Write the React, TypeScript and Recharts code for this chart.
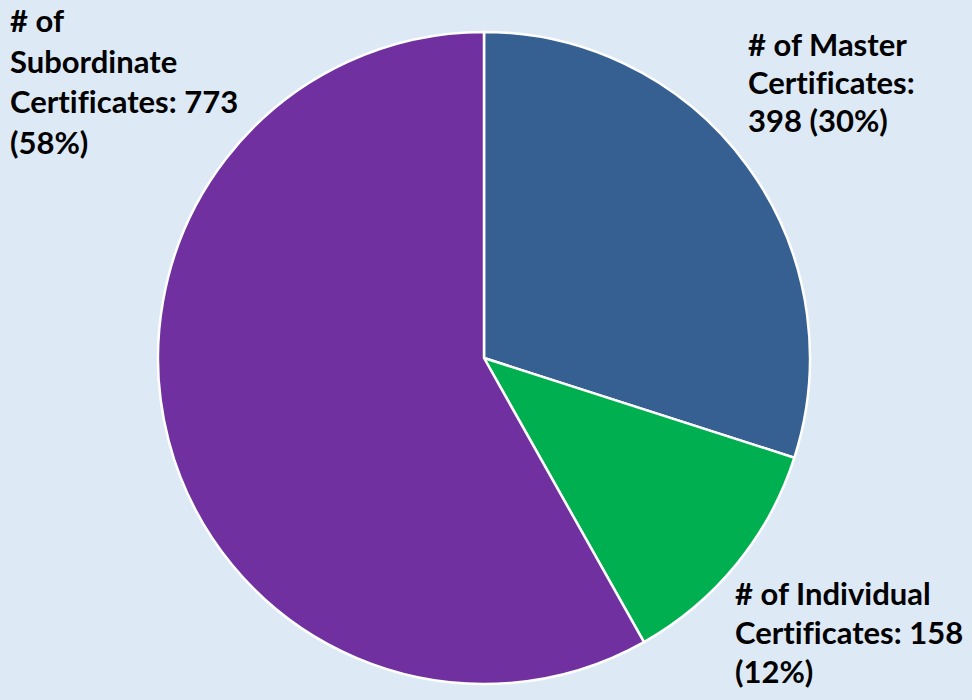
import { PieChart, Pie, Cell } from 'recharts';

const categories = ['# of Master', '# of Individual', '# of Subordinate'];
const counts = [398, 158, 773];
const colors = ['#366092', '#00b050', '#7030a0'];

// words per line for each label, and where the label block sits
const LABEL_LAYOUT = [
  { lines: [3, 1, 2], x: 748, y: 56, gap: 38 },
  { lines: [3, 2, 1], x: 735, y: 605, gap: 39 },
  { lines: [2, 1, 2, 1], x: 10, y: 32, gap: 40.5 },
];

const total = counts.reduce((a, b) => a + b, 0);
const data = categories.map((name, i) => ({ name, value: counts[i] }));

function renderLabel(props: any) {
  const { index, name, value } = props;
  const layout = LABEL_LAYOUT[index];
  const pct = Math.round((value / total) * 100);
  const words = `${name} Certificates: ${value} (${pct}%)`.split(' ');
  const rows: string[] = [];
  let k = 0;
  layout.lines.forEach((n) => {
    rows.push(words.slice(k, k + n).join(' '));
    k += n;
  });
  return (
    <text
      x={layout.x}
      y={layout.y}
      fill="#000"
      fontFamily="Lato, 'Open Sans', sans-serif"
      fontWeight={700}
      fontSize={31}
      textAnchor="start"
      style={{ fontVariantLigatures: 'none' }}
    >
      {rows.map((r, i) => (
        <tspan key={i} x={layout.x} y={layout.y + i * layout.gap}>
          {r}
        </tspan>
      ))}
    </text>
  );
}

export default function App() {
  return (
    <div style={{ position: 'absolute', left: 0, top: 0, width: 972, height: 700, background: '#dde9f5', overflow: 'hidden' }}>
      <PieChart width={972} height={700} margin={{ top: 0, right: 0, bottom: 0, left: 0 }}>
        <Pie
          data={data}
          dataKey="value"
          nameKey="name"
          cx={484}
          cy={358}
          outerRadius={326}
          startAngle={90}
          endAngle={-270}
          stroke="#ffffff"
          strokeWidth={2.5}
          label={renderLabel}
          labelLine={false}
          isAnimationActive={false}
        >
          {data.map((d, i) => (
            <Cell key={d.name} fill={colors[i]} />
          ))}
        </Pie>
      </PieChart>
    </div>
  );
}
